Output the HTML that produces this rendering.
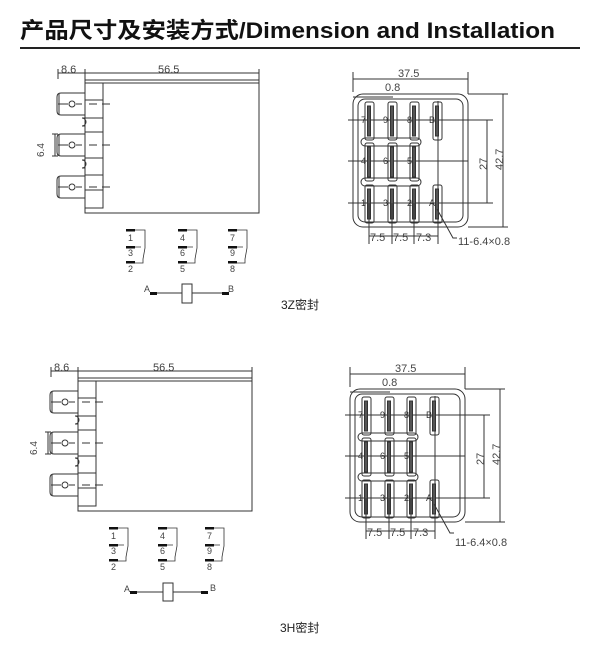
<!DOCTYPE html>
<html><head><meta charset="utf-8"><style>
body{margin:0;background:#fff;width:600px;height:650px;overflow:hidden;font-family:"Liberation Sans","Noto Sans CJK SC",sans-serif}
</style></head><body>
<svg width="600" height="650" xmlns="http://www.w3.org/2000/svg" font-family="Liberation Sans, Noto Sans CJK SC, sans-serif">
<text x="20" y="38" font-size="22" font-weight="bold" fill="#111" textLength="535" lengthAdjust="spacingAndGlyphs">产品尺寸及安装方式/Dimension and  Installation</text>
<rect x="20" y="47" width="560" height="2" fill="#222"/>
<defs>
<g id="tab" stroke="#333" fill="none" stroke-width="1"><path d="M0 -11 H-24 Q-28 -11 -28 -7 V7 Q-28 11 -24 11 H0"/><line x1="-26" y1="-11" x2="-26" y2="11"/><circle cx="-13" cy="0" r="3"/><line x1="-27" y1="0" x2="-17" y2="0"/><line x1="-9" y1="0" x2="0" y2="0" stroke-dasharray="6 4"/><line x1="4" y1="0" x2="26" y2="0" stroke-dasharray="8 5"/></g>
<g id="slot" stroke="#333" fill="none" stroke-width="1"><rect x="-4" y="-18" width="9" height="38" rx="2"/><rect x="-1.5" y="-14" width="3" height="30" fill="#555"/></g>
<g id="side" stroke="#333" fill="none" stroke-width="1">
 <rect x="0" y="0" width="174" height="133"/>
 <line x1="0" y1="3" x2="174" y2="3"/>
 <rect x="0" y="3" width="18" height="125"/>
 <line x1="0" y1="20" x2="18" y2="20"/><line x1="0" y1="38" x2="18" y2="38"/>
 <line x1="0" y1="52" x2="18" y2="52"/><line x1="0" y1="78" x2="18" y2="78"/>
 <line x1="0" y1="95" x2="18" y2="95"/><line x1="0" y1="110" x2="18" y2="110"/>
 <use href="#tab" y="24"/><use href="#tab" y="65"/><use href="#tab" y="107"/>
 <path d="M0 38 H-3 A4 4 0 0 1 -3 46 H0"/><path d="M0 80 H-3 A4 4 0 0 1 -3 88 H0"/>
 <line x1="-27" y1="-11" x2="-27" y2="-1"/><line x1="0" y1="-11" x2="0" y2="0"/>
 <line x1="-27" y1="-7" x2="0" y2="-7"/><line x1="0" y1="-7" x2="174" y2="-7"/><line x1="174" y1="-11" x2="174" y2="0"/>
 <line x1="-30" y1="54" x2="-30" y2="76"/><line x1="-33" y1="54" x2="-27" y2="54"/><line x1="-33" y1="76" x2="-27" y2="76"/>
</g>
<g id="sw">
 <rect x="-5" y="0" width="9" height="2.5" fill="#111"/><rect x="-5" y="17" width="9" height="2.5" fill="#111"/><rect x="-5" y="32" width="9" height="2.5" fill="#111"/>
 <path d="M4 1 H14 V19 L12 30 V34 H4 M4 18 H10" stroke="#333" fill="none" stroke-width="0.8"/>
</g>
<g id="front" stroke="#333" fill="none" stroke-width="1">
 <rect x="0" y="0" width="115" height="133" rx="10"/>
 <rect x="5" y="5" width="105" height="123" rx="7"/>
 <line x1="0" y1="-22" x2="0" y2="-2"/><line x1="115" y1="-22" x2="115" y2="0"/><line x1="0" y1="-15" x2="115" y2="-15"/>
 <line x1="0" y1="3" x2="40" y2="3"/>
 <line x1="115" y1="0" x2="155" y2="0"/><line x1="115" y1="133" x2="155" y2="133"/><line x1="150" y1="0" x2="150" y2="133"/>
 <line x1="105" y1="26" x2="140" y2="26"/><line x1="105" y1="109" x2="140" y2="109"/><line x1="134" y1="26" x2="134" y2="109"/>
 <line x1="-5" y1="26" x2="115" y2="26"/><line x1="-5" y1="67" x2="115" y2="67"/><line x1="-5" y1="109" x2="115" y2="109"/>
 <line x1="85" y1="7" x2="85" y2="150"/>
 <use href="#slot" x="16" y="26"/><use href="#slot" x="39" y="26"/><use href="#slot" x="61" y="26"/><use href="#slot" x="84" y="26"/>
 <use href="#slot" x="16" y="67"/><use href="#slot" x="39" y="67"/><use href="#slot" x="61" y="67"/>
 <use href="#slot" x="16" y="109"/><use href="#slot" x="39" y="109"/><use href="#slot" x="61" y="109"/><use href="#slot" x="84" y="109"/>
 <rect x="8" y="44" width="60" height="8" rx="4"/><rect x="8" y="84" width="60" height="8" rx="4"/>
 <line x1="16" y1="109" x2="16" y2="150"/><line x1="39" y1="109" x2="39" y2="150"/><line x1="61" y1="109" x2="61" y2="150"/>
 <line x1="16" y1="142" x2="85" y2="142"/>
 <path d="M84 115 L100 144 H104"/>
 <g font-size="9" fill="#333" stroke="none"><text x="8" y="29">7</text><text x="30" y="29">9</text><text x="54" y="29">8</text><text x="76" y="29">B</text>
 <text x="8" y="70">4</text><text x="30" y="70">6</text><text x="54" y="70">5</text>
 <text x="8" y="112">1</text><text x="30" y="112">3</text><text x="54" y="112">2</text><text x="76" y="112">A</text></g>
</g>
</defs>
<g font-size="11" fill="#444">
<use href="#side" x="85" y="80"/>
<text x="61" y="73">8.6</text><text x="158" y="73">56.5</text>
<g transform="translate(44,157) rotate(-90)"><text x="0" y="0" font-size="10">6.4</text></g>
<use href="#sw" x="131" y="229"/><use href="#sw" x="183" y="229"/><use href="#sw" x="233" y="229"/>
<g font-size="9"><text x="128" y="241">1</text><text x="128" y="256">3</text><text x="128" y="272">2</text>
<text x="180" y="241">4</text><text x="180" y="256">6</text><text x="180" y="272">5</text>
<text x="230" y="241">7</text><text x="230" y="256">9</text><text x="230" y="272">8</text>
<text x="144" y="292">A</text><text x="228" y="292">B</text></g>
<path d="M150 293 H182 M192 293 H228" stroke="#333"/><rect x="150" y="292" width="7" height="3" fill="#111"/><rect x="222" y="292" width="7" height="3" fill="#111"/>
<rect x="182" y="284" width="10" height="19" fill="none" stroke="#333"/>
<text x="281" y="309" font-size="12" fill="#222">3Z密封</text>

<use href="#side" x="78" y="378"/>
<text x="54" y="371">8.6</text><text x="153" y="371">56.5</text>
<g transform="translate(37,455) rotate(-90)"><text x="0" y="0" font-size="10">6.4</text></g>
<use href="#sw" x="114" y="527"/><use href="#sw" x="163" y="527"/><use href="#sw" x="210" y="527"/>
<g font-size="9"><text x="111" y="539">1</text><text x="111" y="554">3</text><text x="111" y="570">2</text>
<text x="160" y="539">4</text><text x="160" y="554">6</text><text x="160" y="570">5</text>
<text x="207" y="539">7</text><text x="207" y="554">9</text><text x="207" y="570">8</text>
<text x="124" y="592">A</text><text x="210" y="591">B</text></g>
<path d="M130 592 H163 M173 592 H205" stroke="#333"/><rect x="130" y="591" width="7" height="3" fill="#111"/><rect x="201" y="591" width="7" height="3" fill="#111"/>
<rect x="163" y="583" width="10" height="18" fill="none" stroke="#333"/>
<text x="280" y="632" font-size="12" fill="#222">3H密封</text>

<use href="#front" x="353" y="94"/>
<text x="398" y="77">37.5</text><text x="385" y="91">0.8</text>
<text x="487" y="170" transform="rotate(-90 487 170)">27</text><text x="503" y="170" transform="rotate(-90 503 170)">42.7</text>
<text x="370" y="241">7.5</text><text x="393" y="241">7.5</text><text x="416" y="241">7.3</text><text x="458" y="245">11-6.4×0.8</text>
<use href="#front" x="350" y="389"/>
<text x="395" y="372">37.5</text><text x="382" y="386">0.8</text>
<text x="484" y="465" transform="rotate(-90 484 465)">27</text><text x="500" y="465" transform="rotate(-90 500 465)">42.7</text>
<text x="367" y="536">7.5</text><text x="390" y="536">7.5</text><text x="413" y="536">7.3</text><text x="455" y="546">11-6.4×0.8</text>
</g>
</svg>
</body></html>
